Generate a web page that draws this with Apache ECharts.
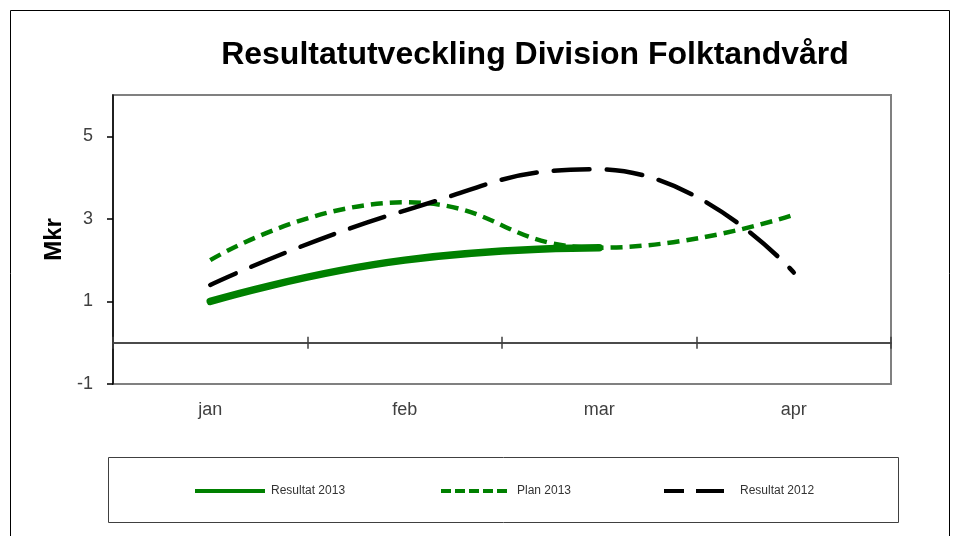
<!DOCTYPE html>
<html><head><meta charset="utf-8">
<script src="https://cdn.jsdelivr.net/npm/echarts@6/dist/echarts.min.js"></script>
<style>html,body{margin:0;padding:0;background:#fff}#c{width:955px;height:536px}</style>
</head><body><div id="c"></div>
<script>
const months = ['jan', 'feb', 'mar', 'apr'];
const resultat2013 = [1.0, 2.0, 2.3, null];
const plan2013 = [2.0, 3.4, 2.3, 3.1];
const resultat2012 = [1.4, 3.2, 4.2, 1.7];
const yTicks = [-1, 1, 3, 5];

const F = 'Liberation Sans, Arial, sans-serif';
const chart = echarts.init(document.getElementById('c'), null, {renderer: 'canvas'});
function legendFor(name, left, lineStyle) {
  return {
    left: left, top: 480, itemWidth: 70, itemHeight: 14, itemGap: 6,
    data: [name], selectedMode: false,
    itemStyle: {opacity: 0},
    lineStyle: lineStyle,
    textStyle: {fontFamily: F, fontSize: 12, color: '#333', padding: [0, 0, 0, 1]}
  };
}
chart.setOption({
  animation: false,
  backgroundColor: '#fff',
  title: {
    text: 'Resultatutveckling Division Folktandvård',
    left: 530, textAlign: 'center', top: 34,
    textStyle: {fontFamily: F, fontSize: 32, fontWeight: 'bold', color: '#000'}
  },
  graphic: [
    {type: 'rect', shape: {x: 10.5, y: 10.5, width: 939, height: 540}, style: {fill: null, stroke: '#000', lineWidth: 1}, silent: true},
    {type: 'rect', shape: {x: 108.5, y: 457.5, width: 790, height: 65}, style: {fill: null, stroke: '#404040', lineWidth: 1}, silent: true}
  ],
  legend: [
    legendFor('Resultat 2013', 188, {width: 4, type: 'solid', cap: 'butt'}),
    legendFor('Plan 2013', 434, {width: 4, type: [10, 4], cap: 'butt'}),
    legendFor('Resultat 2012', 657, {width: 4, type: [28, 12], cap: 'butt'})
  ],
  grid: {left: 113, right: 64, top: 95, bottom: 152, show: true, borderColor: '#808080', borderWidth: 2, backgroundColor: '#fff'},
  xAxis: [
    {type: 'category', data: months, boundaryGap: true, position: 'bottom',
     axisLine: {onZero: true, lineStyle: {color: '#404040', width: 1.5}},
     axisTick: {show: true, inside: false, length: 6, alignWithLabel: false, lineStyle: {color: '#404040', width: 1.5}},
     axisLabel: {margin: 17, fontFamily: F, fontSize: 18, color: '#404040'}},
    {type: 'category', data: months, boundaryGap: true, position: 'top', offset: -247.7,
     axisLine: {onZero: false, lineStyle: {color: '#404040', width: 1.5}},
     axisTick: {show: true, inside: false, length: 6, alignWithLabel: false, lineStyle: {color: '#404040', width: 1.5}},
     axisLabel: {show: false}}
  ],
  yAxis: {
    type: 'value', min: -1, max: 6, interval: 2,
    name: 'Mkr', nameLocation: 'middle', nameGap: 44, nameRotate: 90,
    nameTextStyle: {fontFamily: F, fontSize: 24, fontWeight: 'bold', color: '#000'},
    axisLine: {show: true, onZero: false, lineStyle: {color: '#000', width: 1.5}},
    axisTick: {show: true, length: 6, customValues: yTicks, lineStyle: {color: '#000', width: 1.5}},
    axisLabel: {margin: 20, fontFamily: F, fontSize: 18, color: '#404040', customValues: yTicks},
    splitLine: {show: false}
  },
  series: [
    {name: 'Resultat 2013', type: 'line', data: resultat2013, smooth: 0.5, symbol: 'none', z: 3,
     lineStyle: {color: '#008000', width: 7.5, cap: 'round'}, itemStyle: {color: '#008000'}},
    {name: 'Plan 2013', type: 'line', data: plan2013, smooth: 0.5, symbol: 'none', z: 2,
     lineStyle: {color: '#008000', width: 4.5, type: [12, 7], cap: 'butt'}, itemStyle: {color: '#008000'}},
    {name: 'Resultat 2012', type: 'line', data: resultat2012, smooth: 0.5, symbol: 'none', z: 2,
     lineStyle: {color: '#000', width: 4.5, type: [36, 17], dashOffset: 8, cap: 'round'}, itemStyle: {color: '#000'}}
  ]
});
</script></body></html>
